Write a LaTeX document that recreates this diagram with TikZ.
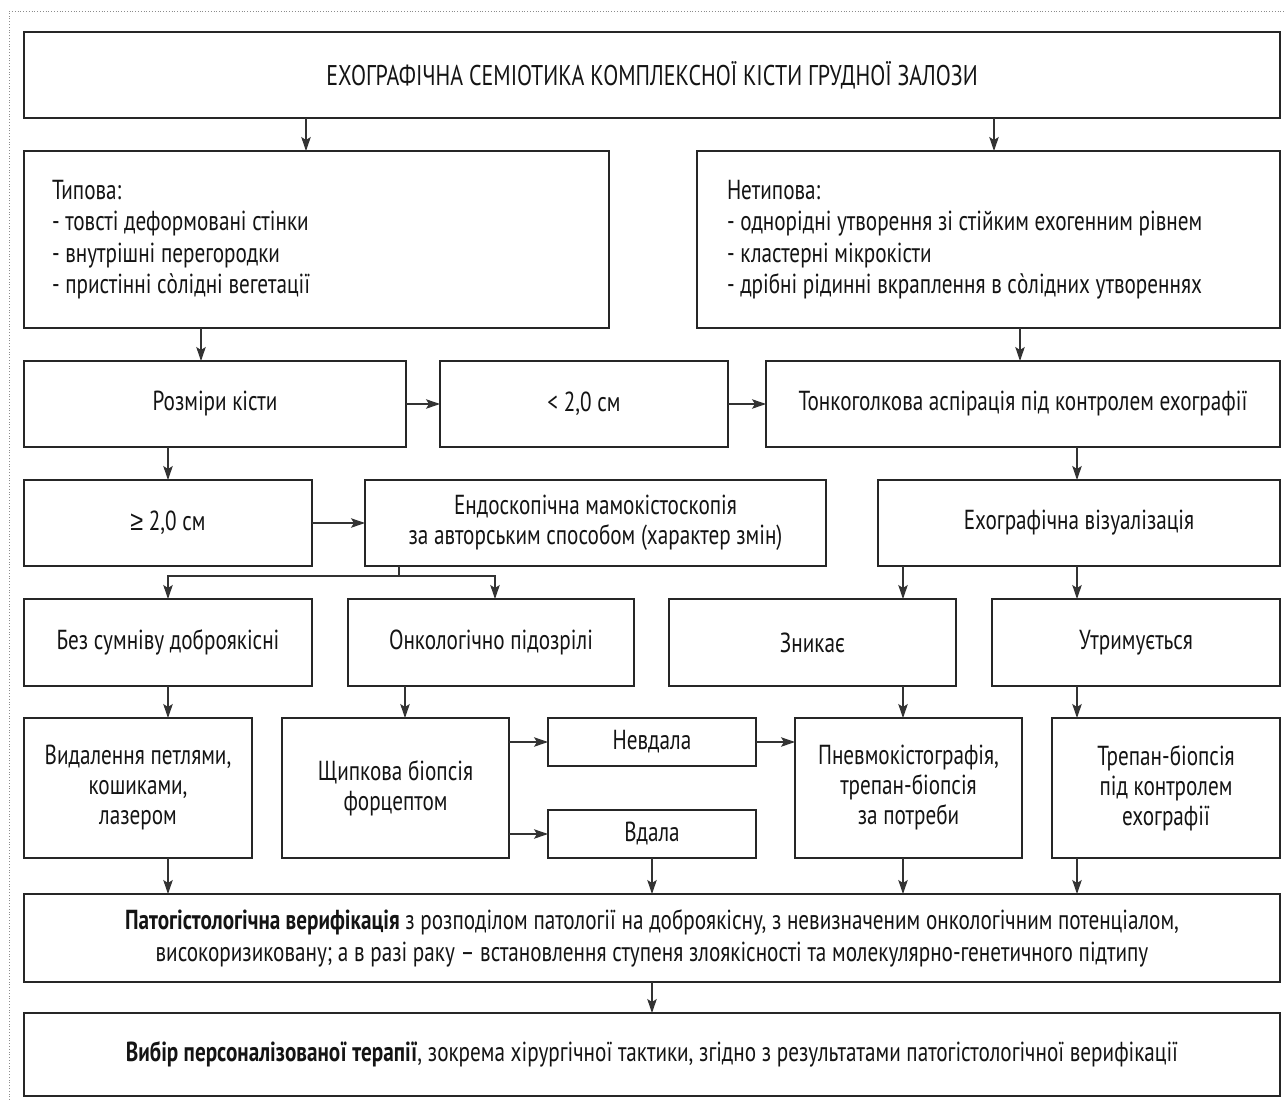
\documentclass[tikz,border=0pt]{standalone}
\usepackage{fontspec}
\setmainfont{PT Sans}[FakeStretch=0.77]
\newfontfamily\symf{Liberation Sans}[FakeStretch=0.85]
\usetikzlibrary{arrows.meta,calc}
\tikzset{
  box/.style={draw=black!85, line width=1.3pt, inner sep=0pt, outer sep=0pt, align=center,
    font=\fontsize{27.5}{30}\selectfont, text=black!92},
  lbox/.style={box, align=flush left, font=\fontsize{27.5}{31.5}\selectfont},
  conn/.style={draw=black!80, line width=1.1pt},
  arr/.style={conn, -{Stealth[length=14pt,width=9.5pt,inset=3pt]}},
}
\newcommand\mkbox[7][]{\node[box,#1,minimum width={#5-#3},minimum height={#6-#4}] (#2) at ({(#3+#5)/2},{(#4+#6)/2}) {#7};}
\newcommand\mklbox[7]{\node[lbox,text width={#4-#2-2*#6},inner xsep=#6pt,minimum height={#5-#3}] (#1) at ({(#2+#4)/2},{(#3+#5)/2}) {#7};}
\begin{document}
\begin{tikzpicture}[x=1pt,y=-1pt]
\useasboundingbox (0,0) rectangle (1285,1100);
\fill[white] (0,0) rectangle (1285,1100);
\draw[black!45, dotted, line width=0.8pt] (9,1100) -- (9,11) -- (1285,11);

% columns
\coordinate (cA) at (168,0);
\coordinate (cB) at (201,0);
\coordinate (cC) at (306,0);
\coordinate (cD) at (399,0);
\coordinate (cE) at (405,0);
\coordinate (cF) at (495,0);
\coordinate (cG) at (652,0);
\coordinate (cH) at (903,0);
\coordinate (cI) at (994,0);
\coordinate (cJ) at (1020,0);
\coordinate (cK) at (1077,0);
\coordinate (rBr) at (0,576);

\mkbox[font=\fontsize{28.5}{30}\selectfont]{title}{24}{32}{1280}{118}{ЕХОГРАФІЧНА СЕМІОТИКА КОМПЛЕКСНОЇ КІСТИ ГРУДНОЇ ЗАЛОЗИ}
\mklbox{typ}{24}{151}{609}{328}{28}{Типова:\\- товсті деформовані стінки\\- внутрішні перегородки\\- пристінні сòлідні вегетації}
\mklbox{atyp}{697}{151}{1280}{328}{30}{Нетипова:\\- однорідні утворення зі стійким ехогенним рівнем\\- кластерні мікрокісти\\- дрібні рідинні вкраплення в сòлідних утвореннях}

\mkbox{rozm}{24}{361}{406}{447}{Розміри кісти}
\mkbox{lt}{440}{361}{728}{447}{< 2,0 см}
\mkbox{tonk}{766}{361}{1280}{447}{Тонкоголкова аспірація під контролем ехографії}

\mkbox{ge}{24}{480}{312}{566}{{\symf ≥} 2,0 см}
\mkbox{endo}{365}{480}{826}{566}{Ендоскопічна мамокістоскопія\\за авторським способом (характер змін)}
\mkbox{ech}{878}{480}{1280}{566}{Ехографічна візуалізація}

\mkbox{bez}{24}{599}{312}{686}{Без сумніву доброякісні}
\mkbox{onk}{348}{599}{634}{686}{Онкологічно підозрілі}
\mkbox{zn}{669}{599}{956}{686}{Зникає}
\mkbox{ut}{992}{599}{1280}{686}{Утримується}

\mkbox{vyd}{24}{718}{252}{858}{Видалення петлями,\\кошиками,\\лазером}
\mkbox{shch}{282}{718}{509}{858}{Щипкова біопсія\\форцептом}
\mkbox{nevd}{548}{718}{756}{766}{Невдала}
\mkbox{vd}{548}{810}{756}{858}{Вдала}
\mkbox{pnev}{795}{718}{1022}{858}{Пневмокістографія,\\трепан-біопсія\\за потреби}
\mkbox{trep}{1052}{718}{1280}{858}{Трепан-біопсія\\під контролем\\ехографії}

\mkbox[font=\fontsize{27.5}{32}\selectfont]{pat}{24}{894}{1280}{982}{\textbf{Патогістологічна верифікація} з розподілом патології на доброякісну, з невизначеним онкологічним потенціалом,\\високоризиковану; а в разі раку – встановлення ступеня злоякісності та молекулярно-генетичного підтипу}
\mkbox{vyb}{24}{1013}{1280}{1096}{\textbf{Вибір персоналізованої терапії}, зокрема хірургічної тактики, згідно з результатами патогістологічної верифікації}

% connectors
\draw[arr] (title.south -| cC) -- (typ.north -| cC);
\draw[arr] (title.south -| cI) -- (atyp.north -| cI);
\draw[arr] (typ.south -| cB) -- (rozm.north -| cB);
\draw[arr] (atyp.south -| cJ) -- (tonk.north -| cJ);
\draw[arr] (rozm.east) -- (lt.west);
\draw[arr] (lt.east) -- (tonk.west);
\draw[arr] (rozm.south -| cA) -- (ge.north -| cA);
\draw[arr] (tonk.south -| cK) -- (ech.north -| cK);
\draw[arr] (ge.east) -- (endo.west);
\draw[conn] (endo.south -| cD) -- (rBr -| cD);
\draw[arr] (rBr -| cD) -| (bez.north -| cA);
\draw[arr] (rBr -| cD) -| (onk.north -| cF);
\draw[arr] (ech.south -| cH) -- (zn.north -| cH);
\draw[arr] (ech.south -| cK) -- (ut.north -| cK);
\draw[arr] (bez.south -| cA) -- (vyd.north -| cA);
\draw[arr] (onk.south -| cE) -- (shch.north -| cE);
\draw[arr] (zn.south -| cH) -- (pnev.north -| cH);
\draw[arr] (ut.south -| cK) -- (trep.north -| cK);
\draw[arr] (shch.east |- nevd.west) -- (nevd.west);
\draw[arr] (shch.east |- vd.west) -- (vd.west);
\draw[arr] (nevd.east) -- (pnev.west |- nevd.east);
\draw[arr] (vyd.south -| cA) -- (pat.north -| cA);
\draw[arr] (vd.south -| cG) -- (pat.north -| cG);
\draw[arr] (pnev.south -| cH) -- (pat.north -| cH);
\draw[arr] (trep.south -| cK) -- (pat.north -| cK);
\draw[arr] (pat.south -| cG) -- (vyb.north -| cG);
\end{tikzpicture}
\end{document}
